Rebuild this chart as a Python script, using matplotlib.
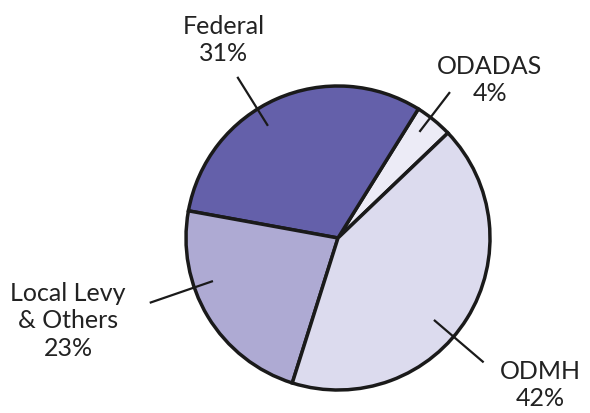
import numpy as np
import matplotlib.pyplot as plt

# funding sources (counter-clockwise from the ODADAS wedge)
sources = ["ODADAS", "Federal", "Local Levy\n& Others", "ODMH"]
shares = [4, 31, 23, 42]
colors = ["#ecebf6", "#6460aa", "#aeaad3", "#dcdbee"]

# label layout: text centre (px from top-left), leader angle, leader radii
label_xy = [(490, 80), (224, 40), (68, 321), (540, 385)]
leader_ang = [52.5, 122.0, 199.0, 319.5]
leader_r = [(0.88, 1.21), (0.87, 1.25), (0.87, 1.31), (0.83, 1.26)]

W, H = 590, 413
cx, cy, R = 338, H - 238, 152

fig = plt.figure(figsize=(W / 100, H / 100), dpi=100)
ax = fig.add_axes([0, 0, 1, 1])

ax.pie(
    shares,
    colors=colors,
    startangle=43.7,
    counterclock=True,
    center=(cx, cy),
    radius=R,
    wedgeprops=dict(edgecolor="#1a1a1a", linewidth=2.5),
    frame=True,
)
ax.set_xlim(0, W)
ax.set_ylim(0, H)
ax.set_aspect("equal")
ax.axis("off")

for name, pct, (tx, ty), ang, (r0, r1) in zip(
    sources, shares, label_xy, leader_ang, leader_r
):
    a = np.deg2rad(ang)
    ax.plot(
        [cx + r0 * R * np.cos(a), cx + r1 * R * np.cos(a)],
        [cy + r0 * R * np.sin(a), cy + r1 * R * np.sin(a)],
        color="#1a1a1a",
        lw=1.6,
        solid_capstyle="butt",
    )
    ax.text(
        tx,
        H - ty,
        f"{name}\n{pct}%",
        ha="center",
        va="center",
        multialignment="center",
        fontsize=18,
        family=["Lato", "DejaVu Sans"],
        color="#222222",
        linespacing=1.25,
    )

fig.savefig("out.png", dpi=100)
